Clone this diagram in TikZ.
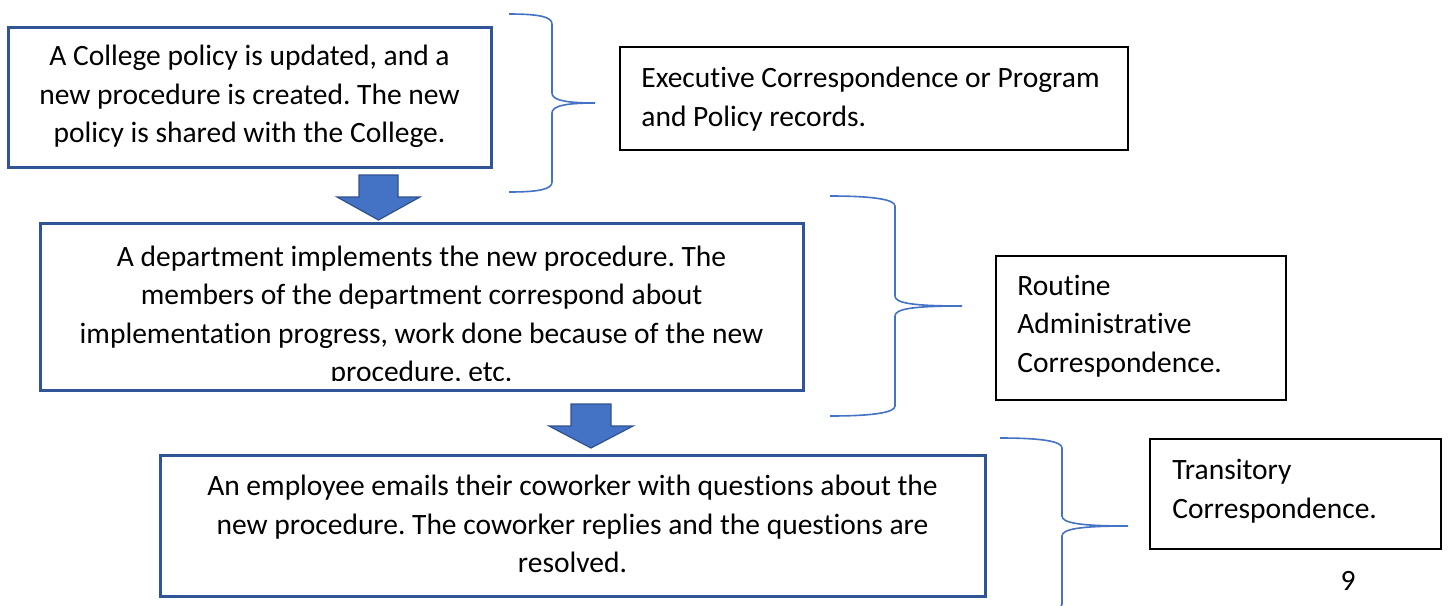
\documentclass[tikz,border=0pt]{standalone}
\usepackage{fontspec}
\setmainfont{Carlito}[Ligatures={NoCommon}]
\frenchspacing
\definecolor{boxblue}{HTML}{2F5597}
\definecolor{accent}{HTML}{4472C4}
\definecolor{arrowedge}{HTML}{2F528F}
\begin{document}
\begin{tikzpicture}[x=0.5pt,y=-0.5pt,
  mainbox/.style={draw=boxblue, line width=1.5pt, inner sep=0pt},
  sidebox/.style={draw=black, line width=0.75pt, inner sep=0pt},
  txt/.style={font=\fontsize{14.75}{19.25}\selectfont, inner sep=0pt, text=black},
  ctxt/.style={txt, align=center, anchor=north},
  ltxt/.style={txt, align=left, anchor=north west},
  blockarrow/.style={fill=accent, draw=arrowedge, line width=0.6pt, line join=miter},
  bracestyle/.style={draw=accent, line width=0.8pt}]
\useasboundingbox (0,0) rectangle (1448,606);
\clip (0,0) rectangle (1448,606);

% main boxes
\node[mainbox, minimum width=241.5pt, minimum height=70pt] (b1) at (249.5,97) {};
\node[mainbox, minimum width=381.5pt, minimum height=83.5pt] (b2) at (421.5,306.5) {};
\node[mainbox, minimum width=412.5pt, minimum height=70.5pt] (b3) at (572.5,525.5) {};

% side boxes
\node[sidebox, minimum width=254pt, minimum height=51.5pt] (s1) at (874,98.5) {};
\node[sidebox, minimum width=145pt, minimum height=72pt] (s2) at (1141,328) {};
\node[sidebox, minimum width=145.5pt, minimum height=55pt] (s3) at (1295.5,494) {};

% texts
\node[ctxt] (t1) at (249.5,38.5) {\strut A College policy is updated, and a\\new procedure is created. The new\\policy is shared with the College.};
\begin{scope}
\clip (41,224) rectangle (802,380);
\node[ctxt] (t2) at (421.5,239) {\strut A department implements the new procedure. The\\members of the department correspond about\\implementation progress, work done because of the new\\procedure, etc.};
\end{scope}
\node[ctxt] (t3) at (572.5,468.5) {\strut An employee emails their coworker with questions about the\\new procedure. The coworker replies and the questions are\\resolved.};

\node[ltxt] (u1) at (641,60.5) {\strut Executive Correspondence or Program\\and Policy records.};
\node[ltxt] (u2) at (1017,268) {\strut Routine\\Administrative\\Correspondence.};
\node[ltxt] (u3) at (1172,452.5) {\strut Transitory\\Correspondence.};

\node[txt, anchor=base] (pg) at (1348,590) {9};

% block arrows
\path[blockarrow] (359,175) -- (398,175) -- (398,197) -- (420,197) -- (378.5,220) -- (337,197) -- (359,197) -- cycle;
\path[blockarrow] (571,404) -- (611,404) -- (611,426) -- (633,426) -- (591,448) -- (549,426) -- (571,426) -- cycle;

% braces
\path[bracestyle] (509,14) .. controls (540,14) and (552,17) .. (552,24) -- (552,93)
  .. controls (552,100) and (565,103) .. (595,103)
  .. controls (565,103) and (552,106) .. (552,113) -- (552,182)
  .. controls (552,189) and (540,192) .. (509,192);
\path[bracestyle] (830,196) .. controls (870,196) and (895,199) .. (895,206) -- (895,296)
  .. controls (895,303) and (912,306) .. (962,306)
  .. controls (912,306) and (895,309) .. (895,316) -- (895,406)
  .. controls (895,413) and (870,416) .. (830,416);
\path[bracestyle] (1000,438) .. controls (1040,438) and (1062,441) .. (1062,448) -- (1062,516)
  .. controls (1062,523) and (1080,526) .. (1128,526)
  .. controls (1080,526) and (1062,529) .. (1062,536) -- (1062,604)
  .. controls (1062,611) and (1040,614) .. (1000,614);
\end{tikzpicture}
\end{document}
